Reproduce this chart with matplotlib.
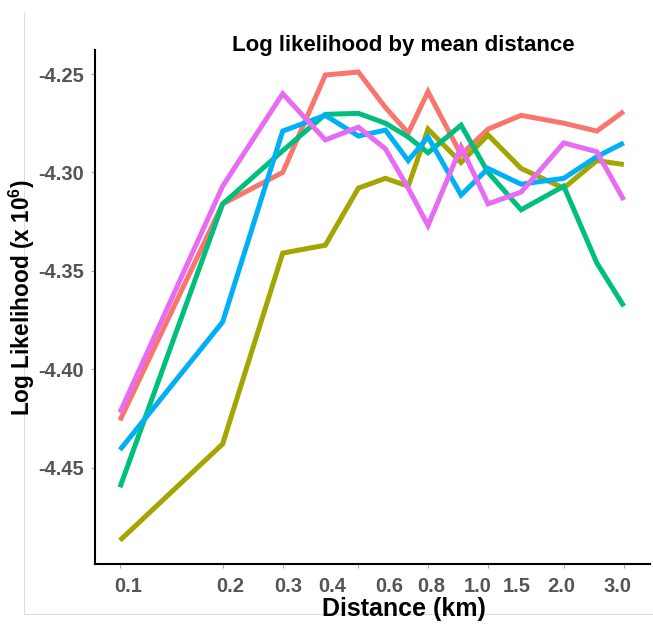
import numpy as np
import matplotlib
matplotlib.use('Agg')
import matplotlib.pyplot as plt
from matplotlib.ticker import FixedLocator, NullFormatter

plt.rcParams['font.family'] = ['Liberation Sans', 'DejaVu Sans']
plt.rcParams['mathtext.fontset'] = 'custom'
plt.rcParams['mathtext.rm'] = 'Liberation Sans'
plt.rcParams['mathtext.bf'] = 'Liberation Sans:bold'

# data
distance = [0.1, 0.2, 0.3, 0.4, 0.5, 0.6, 0.7, 0.8, 1.0, 1.2, 1.5, 2.0, 2.5, 3.0]
series_red = [-4.426, -4.316, -4.300, -4.2505, -4.249, -4.267, -4.280, -4.259,
              -4.291, -4.278, -4.271, -4.275, -4.279, -4.269]
series_olive = [-4.487, -4.438, -4.341, -4.337, -4.308, -4.303, -4.307, -4.278,
                -4.295, -4.281, -4.298, -4.308, -4.294, -4.296]
series_green = [-4.460, -4.316, -4.289, -4.2705, -4.270, -4.275, -4.282, -4.290,
                -4.276, -4.300, -4.319, -4.307, -4.346, -4.368]
series_blue = [-4.441, -4.376, -4.279, -4.271, -4.2815, -4.2785, -4.294, -4.282,
               -4.3115, -4.298, -4.306, -4.303, -4.292, -4.285]
series_pink = [-4.422, -4.307, -4.260, -4.2835, -4.277, -4.288, -4.308, -4.327,
               -4.287, -4.316, -4.310, -4.285, -4.2895, -4.314]

xtick_labels = ['0.1', '0.2', '0.3', '0.4', '0.6', '0.8', '1.0', '1.5', '2.0', '3.0']
ytick_values = [-4.25, -4.30, -4.35, -4.40, -4.45]

# layout (label positions as drawn in the source figure)
xtick_label_pos = [0.106, 0.211, 0.311, 0.419, 0.615, 0.817, 1.12, 1.46, 1.96, 2.87]
xtick_mark_pos = [0.1, 0.2, 0.3, 0.5, 0.8, 1.2, 2.0, 3.0]

colors = ['#F8766D', '#A3A500', '#00BF7D', '#00B0F6', '#E76BF3']
allSeries = [series_red, series_olive, series_green, series_blue, series_pink]

fig = plt.figure(figsize=(6.53, 6.25), dpi=100)
ax = fig.add_axes([95 / 653, 1 - 564 / 625, 555 / 653, 514 / 625])

for vals, c in zip(allSeries, colors):
    ax.plot(distance, vals, color=c, lw=3.6, solid_capstyle='butt', solid_joinstyle='miter')

ax.set_xscale('log')
ax.set_xlim(0.0845, 3.58)
ax.set_ylim(-4.499, -4.2378)

ax.xaxis.set_major_locator(FixedLocator(xtick_label_pos))
ax.set_xticklabels(xtick_labels)
ax.xaxis.set_minor_locator(FixedLocator(xtick_mark_pos))
ax.xaxis.set_minor_formatter(NullFormatter())
ax.tick_params(axis='x', which='major', length=0, pad=9)
ax.tick_params(axis='x', which='minor', length=3, color='#aaaaaa', width=0.8)

ax.set_yticks(ytick_values)
ax.set_yticklabels(['%.2f' % v for v in ytick_values])
ax.tick_params(axis='y', length=3, color='#aaaaaa', width=0.8, pad=5)

for lab in ax.get_xticklabels() + ax.get_yticklabels():
    lab.set_fontsize(14.5)
    lab.set_fontweight('bold')
    lab.set_color('#555555')

for s in ['top', 'right']:
    ax.spines[s].set_visible(False)
for s in ['left', 'bottom']:
    ax.spines[s].set_linewidth(1.5)
    ax.spines[s].set_color('black')

fig.text(403 / 653, 1 - 45 / 625, 'Log likelihood by mean distance',
         ha='center', va='center', fontsize=16, fontweight='bold')
fig.text(404 / 653, 1 - 609 / 625, 'Distance (km)',
         ha='center', va='center', fontsize=18, fontweight='bold')
fig.text(22 / 653, 1 - 298 / 625, r'Log Likelihood (x 10$^{\mathbf{6}}$)',
         ha='center', va='center', rotation=90, fontsize=16.3, fontweight='bold')

# faint frame of the source panel
fig.add_artist(plt.Line2D([24 / 653, 24 / 653], [1 - 13 / 625, 1 - 614 / 625],
                          color='#dddddd', lw=0.8, transform=fig.transFigure))
fig.add_artist(plt.Line2D([24 / 653, 1.0], [1 - 614 / 625, 1 - 614 / 625],
                          color='#dddddd', lw=0.8, transform=fig.transFigure))

fig.savefig('out.png', dpi=100)
